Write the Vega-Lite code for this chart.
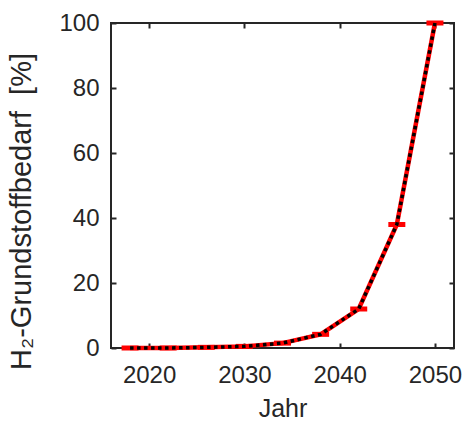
{
  "$schema": "https://vega.github.io/schema/vega-lite/v6.json",
  "width": 343,
  "height": 325,
  "autosize": "none",
  "padding": {"left": 111, "top": 23, "right": 10, "bottom": 75},
  "background": "white",
  "config": {
    "view": {"stroke": "#262626", "strokeWidth": 2},
    "font": "Liberation Sans",
    "axis": {
      "domain": false,
      "grid": false,
      "tickColor": "#262626",
      "tickWidth": 2,
      "tickSize": -5,
      "labelColor": "#262626",
      "labelFontSize": 24,
      "titleColor": "#262626",
      "titleFontSize": 25,
      "titleFontWeight": "normal"
    }
  },
  "data": {
    "values": [
      {"Jahr": 2018, "Wert": 0},
      {"Jahr": 2022, "Wert": 0},
      {"Jahr": 2026, "Wert": 0.2},
      {"Jahr": 2030, "Wert": 0.5},
      {"Jahr": 2034, "Wert": 1.5},
      {"Jahr": 2038, "Wert": 4.2},
      {"Jahr": 2042, "Wert": 12},
      {"Jahr": 2046, "Wert": 38},
      {"Jahr": 2050, "Wert": 100}
    ]
  },
  "layer": [
    {
      "mark": {"type": "line", "color": "#ff0000", "strokeWidth": 4.5, "clip": false},
      "encoding": {
        "x": {"field": "Jahr", "type": "quantitative",
          "scale": {"domain": [2016, 2052], "nice": false, "zero": false},
          "axis": {"values": [2020, 2030, 2040, 2050], "format": "d", "title": "Jahr", "labelPadding": 20, "titlePadding": 9}},
        "y": {"field": "Wert", "type": "quantitative",
          "scale": {"domain": [0, 100], "nice": false},
          "axis": {"values": [0, 20, 40, 60, 80, 100], "title": "H₂-Grundstoffbedarf\u00a0\u00a0[%]", "titleFontSize": 29, "labelPadding": 17, "titlePadding": 22, "titleY": 188}}
      }
    },
    {
      "mark": {"type": "tick", "color": "#ff0000", "orient": "horizontal", "size": 17, "thickness": 5, "opacity": 1, "clip": false},
      "encoding": {
        "x": {"field": "Jahr", "type": "quantitative", "axis": {"orient": "top", "values": [2020, 2030, 2040, 2050], "labels": false, "title": null}},
        "y": {"field": "Wert", "type": "quantitative", "axis": {"orient": "right", "values": [0, 20, 40, 60, 80, 100], "labels": false, "title": null}}
      }
    },
    {
      "mark": {"type": "line", "color": "#000000", "strokeWidth": 3.5, "strokeDash": [3.5, 3.5], "clip": false},
      "encoding": {
        "x": {"field": "Jahr", "type": "quantitative", "axis": null},
        "y": {"field": "Wert", "type": "quantitative", "axis": null}
      }
    }
  ],
  "resolve": {"axis": {"x": "independent", "y": "independent"}}
}
